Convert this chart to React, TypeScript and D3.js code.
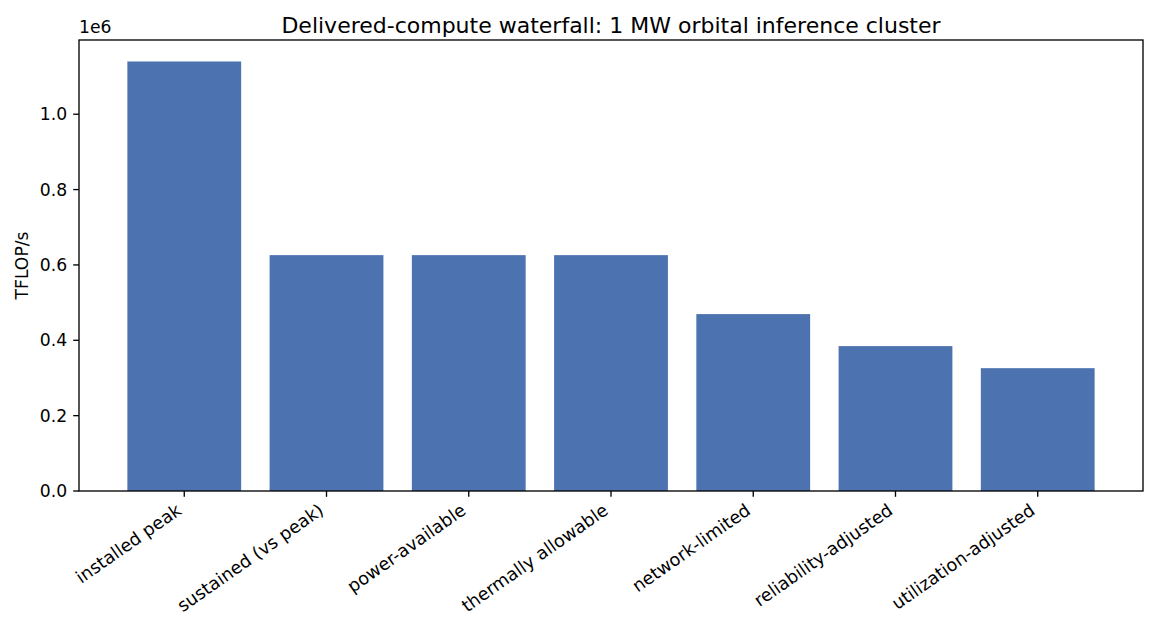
import React from "react";
import * as d3 from "d3";

const categories = [
  "installed peak",
  "sustained (vs peak)",
  "power-available",
  "thermally allowable",
  "network-limited",
  "reliability-adjusted",
  "utilization-adjusted",
];
const values = [1140000, 626000, 626000, 626000, 469500, 384500, 326000];
const yTicks = [0, 0.2e6, 0.4e6, 0.6e6, 0.8e6, 1.0e6];

const W = 1156;
const H = 633;
const margin = { left: 79, right: 13, top: 40, bottom: 142 };
const font = "DejaVu Sans, sans-serif";
const fs = 17.2;
const xfs = 17.7;
const tickLen = 5.8;

const App: React.FC = () => {
  const x0 = margin.left;
  const x1 = W - margin.right;
  const y0 = H - margin.bottom;
  const y1 = margin.top;

  const x = d3.scaleLinear().domain([-0.74, categories.length - 1 + 0.74]).range([x0, x1]);
  const yMax = d3.max(values)! * 1.05;
  const y = d3.scaleLinear().domain([0, yMax]).range([y0, y1]);
  const bw = x(0.4) - x(-0.4);

  return (
    <svg width={W} height={H} style={{ position: "absolute", left: 0, top: 0, background: "#fff" }}>
      <text x={(x0 + x1) / 2} y={33} textAnchor="middle" fontFamily={font} fontSize={22}>
        Delivered-compute waterfall: 1 MW orbital inference cluster
      </text>
      {values.map((v, i) => (
        <rect key={i} x={x(i) - bw / 2} y={y(v)} width={bw} height={y0 - y(v)} fill="#4c72b0" />
      ))}
      <rect x={x0} y={y1} width={x1 - x0} height={y0 - y1} fill="none" stroke="#000" strokeWidth={1.33} />
      {yTicks.map((t) => (
        <g key={t}>
          <line x1={x0 - tickLen} x2={x0} y1={y(t)} y2={y(t)} stroke="#000" strokeWidth={1.33} />
          <text x={x0 - tickLen - 6} y={y(t)} dy="0.36em" textAnchor="end" fontFamily={font} fontSize={fs}>
            {(t / 1e6).toFixed(1)}
          </text>
        </g>
      ))}
      <text x={x0} y={33} fontFamily={font} fontSize={fs}>1e6</text>
      <text
        transform={`translate(28,${(y0 + y1) / 2}) rotate(-90)`}
        textAnchor="middle"
        fontFamily={font}
        fontSize={fs}
      >
        TFLOP/s
      </text>
      {categories.map((c, i) => (
        <g key={c}>
          <line x1={x(i)} x2={x(i)} y1={y0} y2={y0 + tickLen} stroke="#000" strokeWidth={1.33} />
          <text
            transform={`translate(${x(i) - 1.5},${y0 + 22}) rotate(-35)`}
            textAnchor="end"
            fontFamily={font}
            fontSize={xfs}
          >
            {c}
          </text>
        </g>
      ))}
    </svg>
  );
};

export default App;
